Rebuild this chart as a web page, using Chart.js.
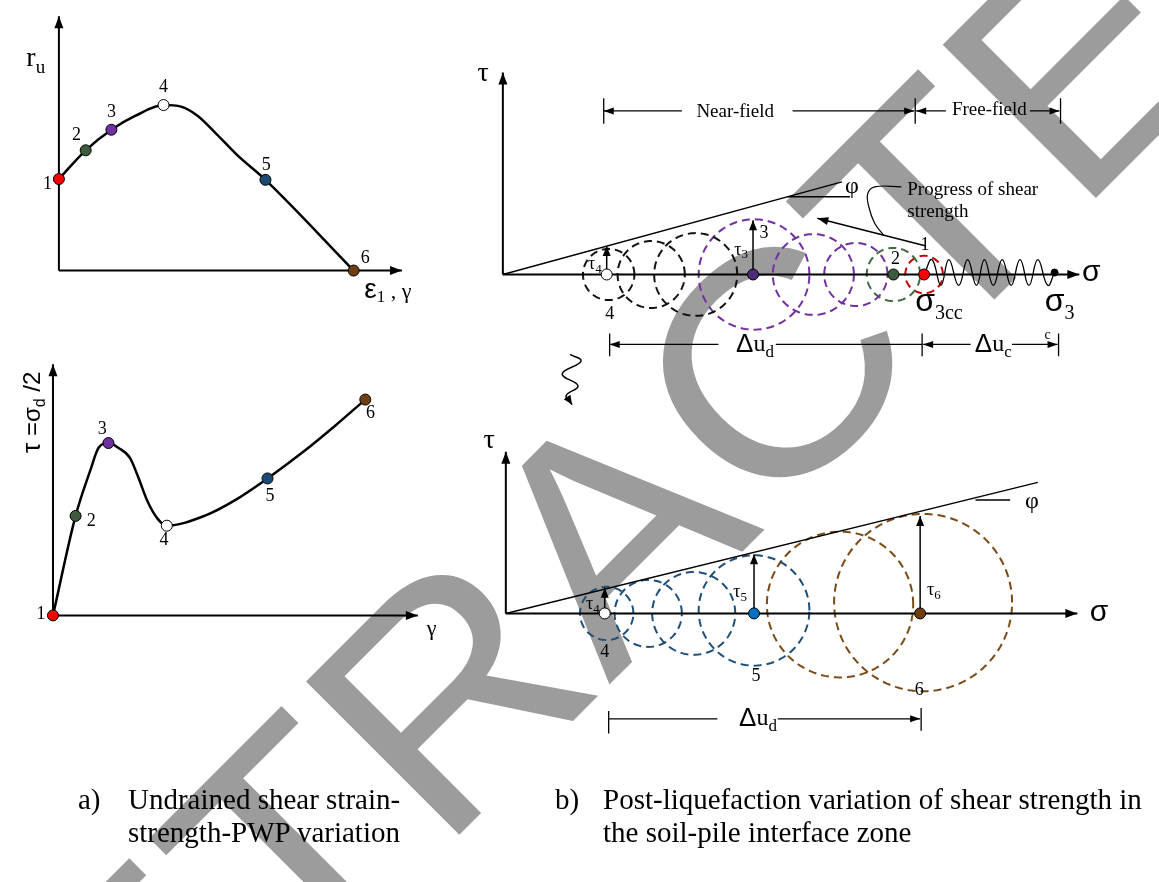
<!DOCTYPE html>
<html>
<head>
<meta charset="utf-8">
<script src="https://cdn.jsdelivr.net/npm/chart.js@4.4.1/dist/chart.umd.min.js"></script>
<style>
  body { margin: 0; background: #fff; }
  #wrap { position: relative; width: 1159px; height: 882px; overflow: hidden; }
  #fig { position: absolute; left: 0; top: 0; }
  .cap { position: absolute; font-family: "Liberation Serif", "Times New Roman", serif; font-size: 29px; line-height: 33px; color: #000; white-space: nowrap; }
</style>
</head>
<body>
<div id="wrap">
  <canvas id="fig" width="1159" height="882"></canvas>
  <div class="cap" style="left:78px;top:783px">a)</div>
  <div class="cap" style="left:128px;top:783px">Undrained shear strain-<br>strength-PWP variation</div>
  <div class="cap" style="left:555px;top:783px">b)</div>
  <div class="cap" style="left:603px;top:783px">Post-liquefaction variation of shear strength in<br>the soil-pile interface zone</div>
</div>
<script>
const W = 1159, H = 882;
const serif = '"Liberation Serif","Times New Roman",serif';
const sans = '"Liberation Sans",Arial,sans-serif';

// (a) top: pore pressure ratio r_u against strain
const ruCurveStrain = [0, 0.78, 1.53, 2.22, 3.05, 3.56, 4.03, 4.61, 5.19, 6.02, 8.59];
const ruCurveRatio  = [3.60, 4.73, 5.54, 6.08, 6.51, 6.45, 6.10, 5.35, 4.55, 3.57, 0];
const ruStageStrain = [0, 0.78, 1.53, 3.05, 6.02, 8.59];
const ruStageRatio  = [3.60, 4.73, 5.54, 6.51, 3.57, 0];

// (a) bottom: shear stress against shear strain
const tauCurveStrain = [0, 0.62, 1.03, 1.25, 1.52, 1.79, 2.11, 2.33, 2.60, 2.87, 3.12, 4.15, 5.04, 5.88, 6.86, 7.75, 8.56];
const tauCurveStress = [0, 3.96, 5.80, 6.67, 6.86, 6.67, 6.27, 5.53, 4.51, 3.84, 3.57, 3.96, 4.63, 5.45, 6.51, 7.57, 8.59];
const tauStageStrain = [0, 0.62, 1.52, 3.12, 5.88, 8.56];
const tauStageStress = [0, 3.96, 6.86, 3.57, 5.45, 8.59];

const stageLabels = ['1', '2', '3', '4', '5', '6'];
const stageColors = ['#ff0000', '#3d5c3d', '#7030a0', '#ffffff', '#1a4a73', '#6e3e10'];

// (b) top: near-field / free-field Mohr circles
const nearCircleSigma  = [10.7, 15.0, 19.5, 25.4, 31.4, 35.7, 39.5, 42.6];
const nearCircleRadius = [2.6, 3.4, 4.2, 5.6, 4.1, 3.2, 2.7, 1.9];
const nearCircleColors = ['#111111', '#111111', '#111111', '#7030a0', '#7030a0', '#7030a0', '#3f6a3f', '#c00000'];
const nearStageSigma  = [10.5, 25.3, 39.5, 42.6, 55.8];
const nearStageColors = ['#ffffff', '#4e2a7a', '#3d5c3d', '#ff0000', '#000000'];
const nearTauTop = [2.9, 5.5];            // tau4, tau3
const nearEnvelopeSigma = [0, 34.3];
const nearEnvelopeTau   = [0, 9.4];
const springSigma = [42.6, 43.4, 44.3, 45.1, 46.1, 47.0, 47.9, 48.7, 49.6, 50.5, 51.4, 52.3, 53.2, 54.1, 55.1, 55.8];
const springTau   = [0, 1.5, -1.1, 1.5, -1.1, 1.5, -1.1, 1.5, -1.1, 1.5, -1.1, 1.5, -1.1, 1.5, -1.1, 0.2];
const leaderSigma = [40.3, 37.6, 36.9, 37.0, 37.6, 38.5];
const leaderTau   = [8.9, 8.9, 8.2, 6.9, 5.2, 4.0];

// (b) bottom: post-liquefaction Mohr circles
const postCircleSigma  = [10.2, 14.4, 19.0, 25.1, 33.8, 42.2];
const postCircleTau    = [0, 0, 0, 0.3, 0.9, 1.1];
const postCircleRadius = [2.7, 3.4, 4.2, 5.6, 7.4, 9.0];
const postCircleColors = ['#1f4e79', '#1f4e79', '#1f4e79', '#1f4e79', '#7b4a14', '#7b4a14'];
const postStageSigma  = [10.0, 25.1, 41.9];
const postStageColors = ['#ffffff', '#0070c0', '#6e3e10'];
const postTauTop = [2.6, 6.0, 9.9];
const postEnvelopeSigma = [0, 53.8];
const postEnvelopeTau   = [0, 13.3];

// panel origins in page pixels and pixels per unit
function xRange(o, k) { return { type: 'linear', display: false, min: -o / k, max: (W - o) / k }; }
function yRange(o, k) { return { type: 'linear', display: false, min: -(H - o) / k, max: o / k }; }

function path(p, xs, ys, o) {
  return Object.assign({
    xAxisID: 'x' + p, yAxisID: 'y' + p,
    data: xs.map((x, i) => ({ x: x, y: ys[i] })),
    showLine: true, borderColor: '#000', borderWidth: 2, pointRadius: 0, pointHoverRadius: 0,
    fill: false, tension: 0, order: 1
  }, o || {});
}
function dots(p, xs, ys, fills, r) {
  return {
    xAxisID: 'x' + p, yAxisID: 'y' + p,
    data: xs.map((x, i) => ({ x: x, y: ys[i] })),
    showLine: false, pointRadius: r || 5.5, pointBackgroundColor: fills,
    pointBorderColor: '#000', pointBorderWidth: 1, order: 0
  };
}
function ring(p, cx, cy, r, color) {
  const xs = [], ys = [];
  for (let i = 0; i <= 120; i++) {
    const a = i / 120 * 2 * Math.PI;
    xs.push(cx + r * Math.cos(a));
    ys.push(cy + r * Math.sin(a));
  }
  return path(p, xs, ys, { borderColor: color, borderDash: [8, 5], borderWidth: 2, order: 2 });
}

const ds = [];
// axes
ds.push(path('A', [0, 10], [0, 0], { arrowEnd: true }));
ds.push(path('A', [0, 0], [0, 10], { arrowEnd: true }));
ds.push(path('B', [0, 10], [0, 0], { arrowEnd: true }));
ds.push(path('B', [0, 0], [0, 10], { arrowEnd: true }));
ds.push(path('C', [0, 58.3], [0, 0], { arrowEnd: true }));
ds.push(path('C', [0, 0], [0, 20.5], { arrowEnd: true }));
ds.push(path('D', [0, 57.8], [0, 0], { arrowEnd: true }));
ds.push(path('D', [0, 0], [0, 16.4], { arrowEnd: true }));

// (a) curves
ds.push(path('A', ruCurveStrain, ruCurveRatio, { borderWidth: 2.5, cubicInterpolationMode: 'monotone' }));
ds.push(dots('A', ruStageStrain, ruStageRatio, stageColors));
ds.push(path('B', tauCurveStrain, tauCurveStress, { borderWidth: 2.5, cubicInterpolationMode: 'monotone' }));
ds.push(dots('B', tauStageStrain, tauStageStress, stageColors));

// (b) top
nearCircleSigma.forEach((c, i) => ds.push(ring('C', c, 0, nearCircleRadius[i], nearCircleColors[i])));
ds.push(path('C', nearEnvelopeSigma, nearEnvelopeTau, { borderWidth: 1.5 }));
ds.push(path('C', [28.8, 35.1], [7.9, 7.9], { borderWidth: 1.5 }));
ds.push(path('C', springSigma, springTau, { borderWidth: 1.3, tension: 0.45 }));
ds.push(path('C', [nearStageSigma[0], nearStageSigma[0]], [0, nearTauTop[0]], { borderWidth: 1.5, arrowEnd: true, aLen: 10, aW: 4 }));
ds.push(path('C', [nearStageSigma[1], nearStageSigma[1]], [0, nearTauTop[1]], { borderWidth: 1.5, arrowEnd: true, aLen: 10, aW: 4 }));
ds.push(path('C', [42.8, 31.8], [2.9, 5.7], { borderWidth: 1.5, arrowEnd: true, aLen: 11, aW: 4 }));
ds.push(path('C', leaderSigma, leaderTau, { borderWidth: 1.2, tension: 0.4 }));
ds.push(path('C', [6.8, 7.9, 6.0, 7.6, 6.4, 7.0], [-8.1, -8.8, -10.1, -11.3, -12.3, -13.2], { borderWidth: 1.5, tension: 0.45, arrowEnd: true, aLen: 9, aW: 4 }));
ds.push(dots('C', nearStageSigma, [0, 0, 0, 0, 0.2], nearStageColors, [5.5, 5.5, 5.5, 5.5, 3.5]));
// dimension rows
[10.2, 41.7, 56.4].forEach(s => ds.push(path('C', [s, s], [15.3, 17.9], { borderWidth: 1.3 })));
ds.push(path('C', [18.1, 10.2], [16.6, 16.6], { borderWidth: 1.3, arrowEnd: true, aLen: 10, aW: 3.5 }));
ds.push(path('C', [29.3, 41.6], [16.6, 16.6], { borderWidth: 1.3, arrowEnd: true, aLen: 10, aW: 3.5 }));
ds.push(path('C', [44.8, 41.8], [16.6, 16.6], { borderWidth: 1.3, arrowEnd: true, aLen: 10, aW: 3.5 }));
ds.push(path('C', [53.3, 56.3], [16.6, 16.6], { borderWidth: 1.3, arrowEnd: true, aLen: 10, aW: 3.5 }));
[10.8, 42.4, 56.2].forEach(s => ds.push(path('C', [s, s], [-6.0, -8.3], { borderWidth: 1.3 })));
ds.push(path('C', [21.8, 10.8], [-7.1, -7.1], { borderWidth: 1.3, arrowEnd: true, aLen: 10, aW: 3.5 }));
ds.push(path('C', [27.6, 42.4], [-7.1, -7.1], { borderWidth: 1.3 }));
ds.push(path('C', [47.3, 42.5], [-7.1, -7.1], { borderWidth: 1.3, arrowEnd: true, aLen: 10, aW: 3.5 }));
ds.push(path('C', [51.5, 56.1], [-7.1, -7.1], { borderWidth: 1.3, arrowEnd: true, aLen: 10, aW: 3.5 }));

// (b) bottom
postCircleSigma.forEach((c, i) => ds.push(ring('D', c, postCircleTau[i], postCircleRadius[i], postCircleColors[i])));
ds.push(path('D', postEnvelopeSigma, postEnvelopeTau, { borderWidth: 1.5 }));
ds.push(path('D', [47.5, 51.0], [11.5, 11.5], { borderWidth: 1.5 }));
postStageSigma.forEach((s, i) => ds.push(path('D', [s, s], [0, postTauTop[i]], { borderWidth: 1.5, arrowEnd: true, aLen: 10, aW: 4 })));
ds.push(dots('D', postStageSigma, [0, 0, 0], postStageColors));
ds.push(path('D', [10.4, 10.4], [-9.9, -12.2], { borderWidth: 1.3 }));
ds.push(path('D', [42.0, 42.0], [-9.6, -11.9], { borderWidth: 1.3 }));
ds.push(path('D', [10.4, 21.4], [-10.7, -10.7], { borderWidth: 1.3 }));
ds.push(path('D', [27.5, 41.9], [-10.7, -10.7], { borderWidth: 1.3, arrowEnd: true, aLen: 10, aW: 3.5 }));

// text: [panel, x, y, parts, align, rotation]
const S = (t, s, dy) => [t, s, serif, dy || 0];
const A = (t, s, dy) => [t, s, sans, dy || 0];
const figureTexts = [];
stageLabels.forEach((t, i) => figureTexts.push(['A', [-0.33, 0.51, 1.53, 3.05, 6.04, 8.93][i], [3.41, 5.32, 6.24, 7.22, 4.16, 0.50][i], [S(t, 18)]]));
stageLabels.forEach((t, i) => figureTexts.push(['B', [-0.33, 1.05, 1.35, 3.04, 5.95, 8.70][i], [0.04, 3.73, 7.41, 2.98, 4.76, 8.04][i], [S(t, 18)]]));
figureTexts.push(['A', -0.95, 8.33, [S('r', 28), S('u', 19, 9)], 'left']);
figureTexts.push(['A', 8.9, -0.78, [A('ε', 28), S('1', 17, 7), S(' , γ', 22, 2)], 'left']);
figureTexts.push(['B', 10.38, -0.55, [S('γ', 22)]]);
figureTexts.push(['B', -0.54, 8.08, [A('τ', 26), A(' =σ', 24), A('d', 16, 7), A(' /2', 24)], 'center', -90]);

figureTexts.push(['C', -2.0, 20.4, [S('τ', 28)]]);
figureTexts.push(['C', 59.5, 0.2, [A('σ', 30)]]);
figureTexts.push(['C', 10.8, -4.0, [S('4', 18)]]);
figureTexts.push(['C', 9.3, 1.0, [S('τ', 18), S('4', 13, 5)]]);
figureTexts.push(['C', 26.4, 4.2, [S('3', 18)]]);
figureTexts.push(['C', 24.1, 2.5, [S('τ', 18), S('3', 13, 5)]]);
figureTexts.push(['C', 39.7, 1.5, [S('2', 18)]]);
figureTexts.push(['C', 42.7, 3.0, [S('1', 18)]]);
figureTexts.push(['C', 35.3, 8.9, [S('φ', 24)]]);
figureTexts.push(['C', 40.9, 8.6, [S('Progress of shear', 19)], 'left']);
figureTexts.push(['C', 40.9, 6.3, [S('strength', 19)], 'left']);
figureTexts.push(['C', 41.7, -2.8, [A('σ', 32), S('3cc', 20, 12)], 'left']);
figureTexts.push(['C', 54.8, -2.8, [A('σ', 32), S('3', 20, 12)], 'left']);
figureTexts.push(['C', 23.5, 16.5, [S('Near-field', 19)]]);
figureTexts.push(['C', 49.2, 16.7, [S('Free-field', 19)]]);
figureTexts.push(['C', 25.5, -7.1, [A('Δ', 26), S('u', 24), S('d', 17, 8)]]);
figureTexts.push(['C', 49.6, -7.1, [A('Δ', 26), S('u', 24), S('c', 17, 8)]]);
figureTexts.push(['C', 55.1, -6.2, [S('c', 14)]]);

figureTexts.push(['D', -1.7, 17.5, [S('τ', 28)]]);
figureTexts.push(['D', 60.0, 0.1, [A('σ', 30)]]);
figureTexts.push(['D', 8.8, 0.9, [S('τ', 18), S('4', 13, 5)]]);
figureTexts.push(['D', 10.0, -3.9, [S('4', 18)]]);
figureTexts.push(['D', 23.7, 2.1, [S('τ', 18), S('5', 13, 5)]]);
figureTexts.push(['D', 25.3, -6.4, [S('5', 18)]]);
figureTexts.push(['D', 43.3, 2.3, [S('τ', 18), S('6', 13, 5)]]);
figureTexts.push(['D', 41.8, -7.8, [S('6', 18)]]);
figureTexts.push(['D', 53.2, 11.3, [S('φ', 24)]]);
figureTexts.push(['D', 25.5, -10.7, [A('Δ', 26), S('u', 24), S('d', 17, 8)]]);

const stampPlugin = {
  id: 'stamp',
  beforeDatasetsDraw(chart) {
    const ctx = chart.ctx;
    ctx.save();
    ctx.translate(687, 607);
    ctx.rotate(-Math.PI / 4);
    ctx.scale(1.05, 1);
    ctx.font = '315px ' + sans;
    ctx.fillStyle = '#9c9c9c';
    ctx.textAlign = 'center';
    ctx.textBaseline = 'alphabetic';
    ctx.fillText('RETRACTED', 0, 0);
    ctx.restore();
  }
};

const arrowPlugin = {
  id: 'arrows',
  afterDatasetsDraw(chart) {
    const ctx = chart.ctx;
    chart.data.datasets.forEach((d, i) => {
      if (!d.arrowEnd) return;
      const pts = chart.getDatasetMeta(i).data;
      const a = pts[pts.length - 2], b = pts[pts.length - 1];
      const ang = Math.atan2(b.y - a.y, b.x - a.x);
      const L = d.aLen || 12, w = d.aW || 4.5;
      ctx.save();
      ctx.translate(b.x, b.y);
      ctx.rotate(ang);
      ctx.beginPath();
      ctx.moveTo(0, 0);
      ctx.lineTo(-L, -w);
      ctx.lineTo(-L, w);
      ctx.closePath();
      ctx.fillStyle = d.borderColor;
      ctx.fill();
      ctx.restore();
    });
  }
};

const textPlugin = {
  id: 'texts',
  afterDatasetsDraw(chart) {
    const ctx = chart.ctx;
    figureTexts.forEach(lb => {
      const [p, x, y, parts, align, rot] = lb;
      const px = chart.scales['x' + p].getPixelForValue(x);
      const py = chart.scales['y' + p].getPixelForValue(y);
      ctx.save();
      ctx.translate(px, py);
      if (rot) ctx.rotate(rot * Math.PI / 180);
      ctx.fillStyle = '#000';
      ctx.textBaseline = 'middle';
      ctx.textAlign = 'left';
      let total = 0;
      const ws = parts.map(pt => { ctx.font = pt[1] + 'px ' + pt[2]; const w = ctx.measureText(pt[0]).width; total += w; return w; });
      let cx = align === 'left' ? 0 : -total / 2;
      parts.forEach((pt, k) => { ctx.font = pt[1] + 'px ' + pt[2]; ctx.fillText(pt[0], cx, pt[3]); cx += ws[k]; });
      ctx.restore();
    });
  }
};

new Chart(document.getElementById('fig'), {
  type: 'scatter',
  data: { datasets: ds },
  options: {
    responsive: false,
    animation: false,
    events: [],
    layout: { padding: 0 },
    plugins: { legend: { display: false }, tooltip: { enabled: false } },
    scales: {
      xA: xRange(53, 34.7), yA: yRange(268, 25.8),
      xB: xRange(47, 36.9), yB: yRange(618, 25.5),
      xC: xRange(502, 10), yC: yRange(272, 10),
      xD: xRange(505, 10), yD: yRange(616, 10)
    }
  },
  plugins: [stampPlugin, arrowPlugin, textPlugin]
});
</script>
</body>
</html>
